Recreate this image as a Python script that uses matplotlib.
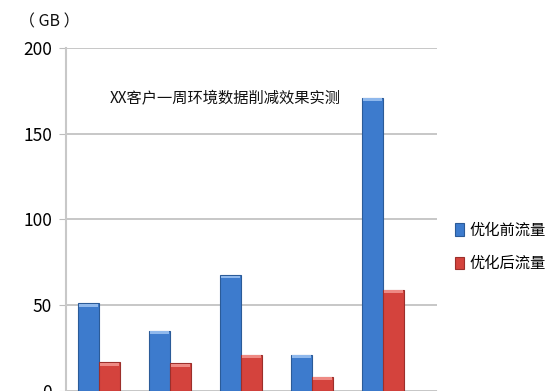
import matplotlib
matplotlib.use('Agg')
import matplotlib.pyplot as plt
import numpy as np

plt.rcParams['font.family'] = ['Noto Sans CJK SC', 'DejaVu Sans']

# data (GB)
groups = ['1', '2', '3', '4', '5']
before = [51, 35, 67.5, 21, 171]
after = [16.5, 16, 21, 8, 59]
series_names = ['优化前流量', '优化后流量']
title = 'XX客户一周环境数据削减效果实测'
yticks = [0, 50, 100, 150, 200]

fig = plt.figure(figsize=(5.48, 3.91), dpi=100)
ax = fig.add_axes([0.1204, 0.0008, 0.677, 0.8765])

x = np.arange(len(groups))
w = 0.29
b1 = ax.bar(x - w / 2, before, w, color='#3d7bcd', edgecolor='#2b5b98', linewidth=0.8,
            label=series_names[0], zorder=3)
b2 = ax.bar(x + w / 2, after, w, color='#d4433d', edgecolor='#9c2f2b', linewidth=0.8,
            label=series_names[1], zorder=3)

# lighter cap on top of each bar (excel 3d look)
for xs, vals, cap in [(x - w / 2, before, '#8fb8ec'), (x + w / 2, after, '#ee8a84')]:
    ax.bar(xs, [1.6] * len(vals), w * 0.9, bottom=np.array(vals) - 1.9, color=cap,
           linewidth=0, zorder=4)

ax.set_xlim(-0.465, 4.76)
ax.set_ylim(0, 200)
ax.set_yticks(yticks)
ax.set_xticks([])
ax.yaxis.grid(True, color='#bdbdbd', linewidth=1.2, zorder=0)
ax.tick_params(axis='y', length=5, color='#bdbdbd', labelsize=12.5, pad=5)
for s in ['top', 'right']:
    ax.spines[s].set_visible(False)
ax.spines['left'].set_color('#c8c8c8')
ax.spines['left'].set_linewidth(1.5)
ax.spines['bottom'].set_color('#bdbdbd')

ax.text(0.118, 0.855, title, transform=ax.transAxes, fontsize=11, color='#111111',
        va='center')
fig.text(0.035, 0.943, '（ GB ）', fontsize=11.5, color='#111111', va='center')

fig.legend(handles=[b1, b2], labels=series_names, loc='center left',
           bbox_to_anchor=(0.831, 0.368), frameon=False, fontsize=11,
           handlelength=0.55, handleheight=0.9, handletextpad=0.4, labelspacing=1.05,
           borderpad=0, borderaxespad=0)

fig.savefig('out.png', dpi=100)
